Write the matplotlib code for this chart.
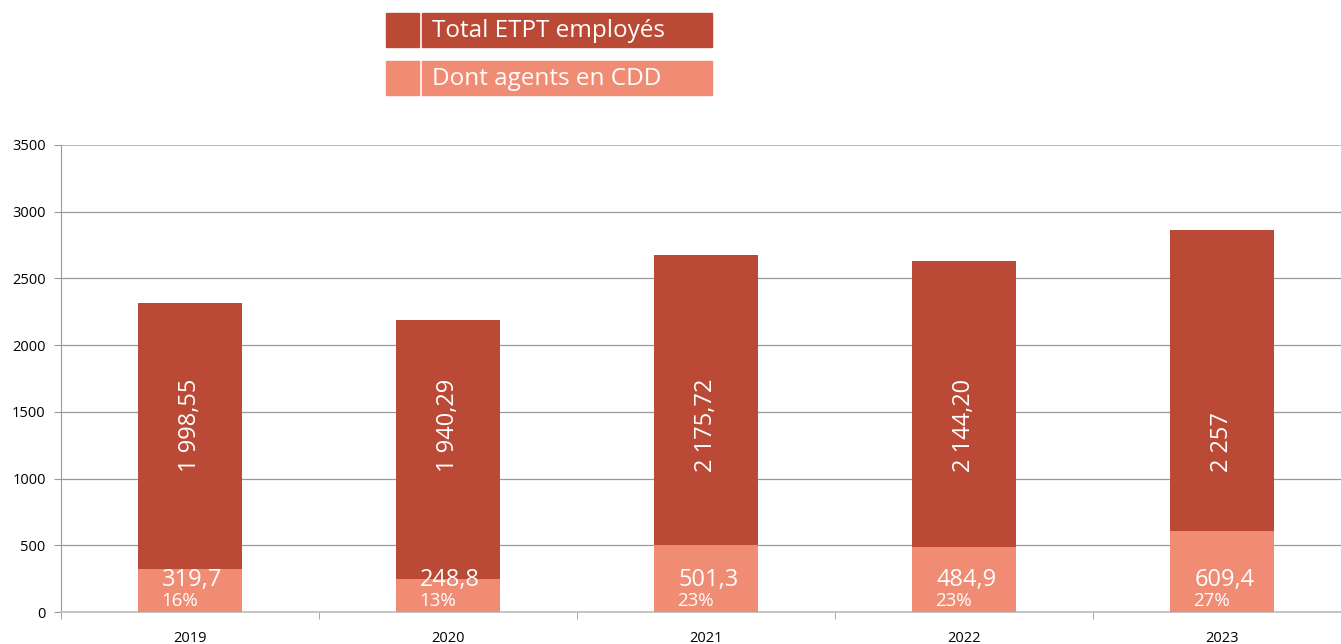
import matplotlib.pyplot as plt
from matplotlib.patches import Rectangle
from matplotlib.transforms import blended_transform_factory

years = ["2019", "2020", "2021", "2022", "2023"]
cdd = [319.7, 248.8, 501.3, 484.9, 609.4]
total = [1998.55, 1940.29, 2175.72, 2144.20, 2257]
cdd_labels = ["319,7", "248,8", "501,3", "484,9", "609,4"]
total_labels = ["1 998,55", "1 940,29", "2 175,72", "2 144,20", "2 257"]
pct_labels = ["16%", "13%", "23%", "23%", "27%"]

dark = "#BA4A35"
light = "#F08B74"

plt.rcParams["font.family"] = ["Open Sans", "DejaVu Sans"]

fig = plt.figure(figsize=(13.41, 6.44), dpi=100)
ax = fig.add_axes([61 / 1341, 1 - 612 / 644, 1 - 61 / 1341, (612 - 145) / 644])

x = list(range(len(years)))
ax.bar(x, cdd, width=0.4, color=light, zorder=3)
ax.bar(x, total, width=0.4, bottom=cdd, color=dark, zorder=3)

tr = blended_transform_factory(ax.transData, ax.transAxes)

# rotated totals, all starting at the same height
for i in x:
    ax.text(i, 0.300, total_labels[i], transform=tr, rotation=90, color="white",
            fontsize=17, ha="center", va="bottom", zorder=4)

# CDD labels near bottom of each bar
for i in x:
    ax.annotate(cdd_labels[i], (i, 0.055), xycoords=tr, xytext=(-20, 0),
                textcoords="offset points", color="white", fontsize=17,
                ha="left", va="baseline", zorder=4)
    ax.annotate(pct_labels[i], (i, 0.013), xycoords=tr, xytext=(-20.5, 0),
                textcoords="offset points", color="white", fontsize=13.5,
                ha="left", va="baseline", zorder=4)

# the plot runs a bit past the right edge of the picture
ax.set_xlim(-0.5, -0.5 + 1280 / 258)
ax.set_ylim(0, 3500)
ax.set_yticks(range(0, 3501, 500))
ax.set_xticks(x)
ax.set_xticklabels(years)
ax.set_xticks([i - 0.5 for i in range(len(years))], minor=True)
ax.tick_params(axis="x", which="major", length=0, pad=14, labelsize=10.5)
ax.tick_params(axis="x", which="minor", length=5, color="#999999")
ax.tick_params(axis="y", length=5, color="#999999", labelsize=10.5, pad=6)

ax.grid(axis="y", color="#999999", linewidth=0.9, zorder=0)
for s in ["top", "right"]:
    ax.spines[s].set_visible(False)
ax.spines["left"].set_color("#999999")
ax.spines["bottom"].set_color("#bbbbbb")
ax.spines["bottom"].set_linewidth(1.2)
gl = ax.get_ygridlines()
gl[-1].set_color("#bbbbbb")
gl[-1].set_linewidth(1.5)

# legend drawn as two filled boxes
W, H = 1341, 644
for y0, col, txt in [(13, dark, "Total ETPT employés"), (61, light, "Dont agents en CDD")]:
    fig.patches.append(Rectangle((386 / W, 1 - (y0 + 34) / H), 33 / W, 34 / H,
                                 transform=fig.transFigure, color=col))
    fig.patches.append(Rectangle((422 / W, 1 - (y0 + 34) / H), 290 / W, 34 / H,
                                 transform=fig.transFigure, color=col))
    fig.text(432 / W, 1 - (y0 + 18) / H, txt, color="white", fontsize=17.5, va="center")

fig.savefig("out.png", dpi=100)
